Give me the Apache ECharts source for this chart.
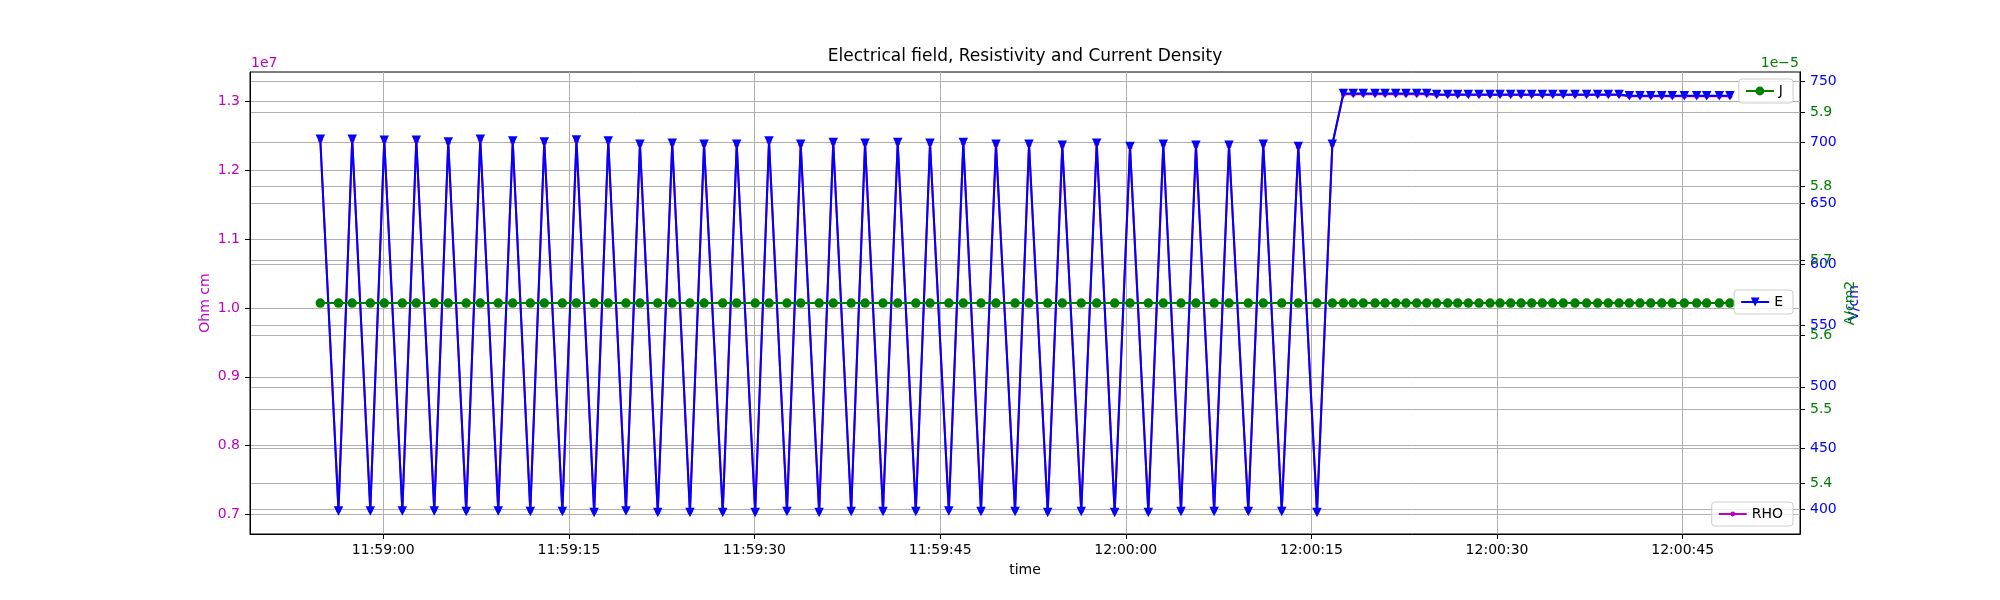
<!DOCTYPE html>
<html>
<head>
<meta charset="utf-8">
<title>Electrical field, Resistivity and Current Density</title>
<script src="https://cdn.jsdelivr.net/npm/echarts@6.0.0/dist/echarts.min.js"></script>
<style>
    html, body { margin: 0; padding: 0; background: #fff; }
    #chart { width: 2000px; height: 600px; }
</style>
</head>
<body>
<div id="chart"></div>
<script>
// sample times (all three series share them)
const times = [
    '11:58:54.91', '11:58:56.38', '11:58:57.49', '11:58:58.95', '11:59:00.08', '11:59:01.54', '11:59:02.67', '11:59:04.12', '11:59:05.25', '11:59:06.70',
    '11:59:07.84', '11:59:09.29', '11:59:10.46', '11:59:11.88', '11:59:13.01', '11:59:14.47', '11:59:15.61', '11:59:17.04', '11:59:18.18', '11:59:19.61',
    '11:59:20.74', '11:59:22.18', '11:59:23.35', '11:59:24.78', '11:59:25.92', '11:59:27.43', '11:59:28.56', '11:59:30.05', '11:59:31.17', '11:59:32.62',
    '11:59:33.73', '11:59:35.22', '11:59:36.36', '11:59:37.81', '11:59:38.93', '11:59:40.38', '11:59:41.57', '11:59:43.03', '11:59:44.18', '11:59:45.70',
    '11:59:46.87', '11:59:48.30', '11:59:49.51', '11:59:51.05', '11:59:52.18', '11:59:53.69', '11:59:54.87', '11:59:56.40', '11:59:57.65', '11:59:59.10',
    '12:00:00.34', '12:00:01.82', '12:00:03.03', '12:00:04.46', '12:00:05.67', '12:00:07.14', '12:00:08.34', '12:00:09.90', '12:00:11.11', '12:00:12.60',
    '12:00:13.94', '12:00:15.45', '12:00:16.69', '12:00:17.58', '12:00:18.38', '12:00:19.19', '12:00:20.14', '12:00:20.95', '12:00:21.81', '12:00:22.64',
    '12:00:23.51', '12:00:24.32', '12:00:25.12', '12:00:26.01', '12:00:26.82', '12:00:27.68', '12:00:28.54', '12:00:29.43', '12:00:30.24', '12:00:31.10',
    '12:00:31.94', '12:00:32.80', '12:00:33.66', '12:00:34.50', '12:00:35.35', '12:00:36.30', '12:00:37.24', '12:00:38.13', '12:00:38.99', '12:00:39.86',
    '12:00:40.69', '12:00:41.55', '12:00:42.42', '12:00:43.31', '12:00:44.16', '12:00:45.13', '12:00:46.13', '12:00:46.94', '12:00:47.96', '12:00:48.82'
];

// E, V/cm
const eValues = [
    702.4, 398.5, 702.4, 398.5, 701.6, 398.5, 701.6, 398.5, 700.2, 398.0,
    702.4, 398.5, 701.0, 398.0, 700.2, 398.0, 701.7, 397.1, 701.0, 398.5,
    698.3, 397.1, 699.1, 397.1, 698.3, 397.1, 698.3, 397.1, 701.0, 398.0,
    698.3, 397.1, 699.7, 398.0, 699.1, 398.0, 699.7, 398.0, 699.1, 398.5,
    699.7, 398.0, 698.3, 398.0, 698.3, 397.1, 697.5, 398.0, 699.1, 397.1,
    696.4, 397.1, 698.3, 398.0, 697.5, 398.0, 697.5, 398.0, 698.3, 398.0,
    696.4, 397.1, 698.3, 739.8, 739.8, 739.8, 739.8, 739.8, 739.8, 739.8,
    739.8, 739.8, 739.0, 739.0, 739.0, 739.0, 739.0, 739.0, 739.0, 739.0,
    739.0, 739.0, 739.0, 739.0, 739.0, 739.0, 739.0, 739.0, 739.0, 739.0,
    738.0, 738.0, 738.0, 738.0, 738.0, 738.0, 738.0, 738.0, 738.0, 738.0
];

// RHO, Ohm cm
const rhoValues = [
    1.2447e7, 0.7062e7, 1.2447e7, 0.7062e7, 1.2433e7, 0.7062e7, 1.2433e7, 0.7062e7, 1.2408e7, 0.7053e7,
    1.2447e7, 0.7062e7, 1.2422e7, 0.7053e7, 1.2408e7, 0.7053e7, 1.2435e7, 0.7037e7, 1.2422e7, 0.7062e7,
    1.2375e7, 0.7037e7, 1.2389e7, 0.7037e7, 1.2375e7, 0.7037e7, 1.2375e7, 0.7037e7, 1.2422e7, 0.7053e7,
    1.2375e7, 0.7037e7, 1.2399e7, 0.7053e7, 1.2389e7, 0.7053e7, 1.2399e7, 0.7053e7, 1.2389e7, 0.7062e7,
    1.2399e7, 0.7053e7, 1.2375e7, 0.7053e7, 1.2375e7, 0.7037e7, 1.2360e7, 0.7053e7, 1.2389e7, 0.7037e7,
    1.2341e7, 0.7037e7, 1.2375e7, 0.7053e7, 1.2360e7, 0.7053e7, 1.2360e7, 0.7053e7, 1.2375e7, 0.7053e7,
    1.2341e7, 0.7037e7, 1.2375e7, 1.3110e7, 1.3110e7, 1.3110e7, 1.3110e7, 1.3110e7, 1.3110e7, 1.3110e7,
    1.3110e7, 1.3110e7, 1.3096e7, 1.3096e7, 1.3096e7, 1.3096e7, 1.3096e7, 1.3096e7, 1.3096e7, 1.3096e7,
    1.3096e7, 1.3096e7, 1.3096e7, 1.3096e7, 1.3096e7, 1.3096e7, 1.3096e7, 1.3096e7, 1.3096e7, 1.3096e7,
    1.3078e7, 1.3078e7, 1.3078e7, 1.3078e7, 1.3078e7, 1.3078e7, 1.3078e7, 1.3078e7, 1.3078e7, 1.3078e7
];

// J, A/cm2
const jValues = [
    5.643e-5, 5.643e-5, 5.643e-5, 5.643e-5, 5.643e-5, 5.643e-5, 5.643e-5, 5.643e-5, 5.643e-5, 5.643e-5,
    5.643e-5, 5.643e-5, 5.643e-5, 5.643e-5, 5.643e-5, 5.643e-5, 5.643e-5, 5.643e-5, 5.643e-5, 5.643e-5,
    5.643e-5, 5.643e-5, 5.643e-5, 5.643e-5, 5.643e-5, 5.643e-5, 5.643e-5, 5.643e-5, 5.643e-5, 5.643e-5,
    5.643e-5, 5.643e-5, 5.643e-5, 5.643e-5, 5.643e-5, 5.643e-5, 5.643e-5, 5.643e-5, 5.643e-5, 5.643e-5,
    5.643e-5, 5.643e-5, 5.643e-5, 5.643e-5, 5.643e-5, 5.643e-5, 5.643e-5, 5.643e-5, 5.643e-5, 5.643e-5,
    5.643e-5, 5.643e-5, 5.643e-5, 5.643e-5, 5.643e-5, 5.643e-5, 5.643e-5, 5.643e-5, 5.643e-5, 5.643e-5,
    5.643e-5, 5.643e-5, 5.643e-5, 5.643e-5, 5.643e-5, 5.643e-5, 5.643e-5, 5.643e-5, 5.643e-5, 5.643e-5,
    5.643e-5, 5.643e-5, 5.643e-5, 5.643e-5, 5.643e-5, 5.643e-5, 5.643e-5, 5.643e-5, 5.643e-5, 5.643e-5,
    5.643e-5, 5.643e-5, 5.643e-5, 5.643e-5, 5.643e-5, 5.643e-5, 5.643e-5, 5.643e-5, 5.643e-5, 5.643e-5,
    5.643e-5, 5.643e-5, 5.643e-5, 5.643e-5, 5.643e-5, 5.643e-5, 5.643e-5, 5.643e-5, 5.643e-5, 5.643e-5
];

// tick labels
const timeTicks = ['11:59:00', '11:59:15', '11:59:30', '11:59:45', '12:00:00', '12:00:15', '12:00:30', '12:00:45'];
const rhoTicks = [0.7e7, 0.8e7, 0.9e7, 1.0e7, 1.1e7, 1.2e7, 1.3e7];
const eTicks = [400, 450, 500, 550, 600, 650, 700, 750];
const jTicks = [5.4e-5, 5.5e-5, 5.6e-5, 5.7e-5, 5.8e-5, 5.9e-5];

// axis limits
const timeRange = ['11:58:49.23', '12:00:54.48'];
const rhoRange = [0.6714e7, 1.3432e7];
const eRange = [379.6, 757.4];
const jRange = [5.3323e-5, 5.9538e-5];

const FONT = 'DejaVu Sans';
const MAGENTA = '#bf00bf';
const BLUE = '#0000ff';
const GREEN = '#008000';
const GRID_GRAY = '#b0b0b0';

function toMs(s) {
    const p = s.split(':');
    return new Date(2024, 0, 1, +p[0], +p[1], 0).getTime() + parseFloat(p[2]) * 1000;
}
function pad2(n) { return (n < 10 ? '0' : '') + n; }
function fmtTime(v) {
    const d = new Date(Math.round(v));
    return pad2(d.getHours()) + ':' + pad2(d.getMinutes()) + ':' + pad2(d.getSeconds());
}

const timeMs = times.map(toMs);
const rhoData = timeMs.map((t, i) => [t, rhoValues[i]]);
const eData = timeMs.map((t, i) => [t, eValues[i]]);
const jData = timeMs.map((t, i) => [t, jValues[i]]);

function yAxis(position, range, ticks, color, name, nameGap, fmt, moveOverlap) {
    return {
        type: 'value',
        position: position,
        min: range[0],
        max: range[1],
        name: name,
        nameLocation: 'middle',
        nameRotate: 90,
        nameGap: nameGap,
        nameMoveOverlap: moveOverlap,
        nameTextStyle: { color: color, fontSize: 14, fontFamily: FONT },
        axisLine: { show: true, lineStyle: { color: '#000', width: 1 } },
        axisTick: { show: true, length: 5, lineStyle: { color: '#000', width: 1 }, customValues: ticks },
        axisLabel: { color: color, fontSize: 14, fontFamily: FONT, margin: 10, customValues: ticks, formatter: fmt },
        splitLine: { show: true, lineStyle: { color: GRID_GRAY, width: 1 } }
    };
}

function legend(name, top, itemHeight) {
    return {
        data: [name],
        right: 207,
        top: top,
        orient: 'vertical',
        padding: [5, 10, 5, 6],
        itemWidth: 28,
        itemHeight: itemHeight,
        backgroundColor: 'rgba(255,255,255,0.8)',
        borderColor: '#cccccc',
        borderWidth: 1,
        borderRadius: 3,
        selectedMode: false,
        textStyle: { color: '#000', fontSize: 14, fontFamily: FONT }
    };
}

let chart = echarts.init(document.querySelector('#chart'));

let option = {
    animation: false,
    backgroundColor: '#fff',
    textStyle: { fontFamily: FONT },
    grid: {
        left: 250, right: 200, top: 72, bottom: 66,
        show: true, borderColor: '#000', borderWidth: 1, backgroundColor: 'transparent'
    },
    graphic: [
        {
            type: 'text', x: 1025, y: 57,
            style: {
                text: 'Electrical field, Resistivity and Current Density',
                font: '17px "DejaVu Sans"', fill: '#000',
                align: 'center', verticalAlign: 'middle', textAlign: 'center', textVerticalAlign: 'middle'
            }
        },
        {
            type: 'text', x: 251, y: 63.5,
            style: {
                text: '1e7', font: '14px "DejaVu Sans"', fill: MAGENTA,
                align: 'left', verticalAlign: 'middle', textAlign: 'left', textVerticalAlign: 'middle'
            }
        },
        {
            type: 'text', x: 1799, y: 63,
            style: {
                text: '1e\u22125', font: '14px "DejaVu Sans"', fill: GREEN,
                align: 'right', verticalAlign: 'middle', textAlign: 'right', textVerticalAlign: 'middle'
            }
        }
    ],
    legend: [
        legend('J', 79, 11),
        legend('E', 290, 11),
        legend('RHO', 502, 6)
    ],
    xAxis: {
        type: 'value',
        min: toMs(timeRange[0]),
        max: toMs(timeRange[1]),
        name: 'time',
        nameLocation: 'middle',
        nameGap: 29,
        nameTextStyle: { color: '#000', fontSize: 14, fontFamily: FONT },
        axisLine: { show: true, onZero: false, lineStyle: { color: '#000', width: 1 } },
        axisTick: { show: true, length: 5, lineStyle: { color: '#000', width: 1 }, customValues: timeTicks.map(toMs) },
        axisLabel: {
            color: '#000', fontSize: 14, fontFamily: FONT, margin: 9,
            customValues: timeTicks.map(toMs),
            formatter: fmtTime
        },
        splitLine: { show: true, lineStyle: { color: GRID_GRAY, width: 1 } }
    },
    yAxis: [
        yAxis('left', rhoRange, rhoTicks, MAGENTA, 'Ohm cm', 38, v => (v / 1e7).toFixed(1), false),
        yAxis('right', eRange, eTicks, BLUE, 'V/cm', 41, v => String(Math.round(v)), true),
        yAxis('right', jRange, jTicks, GREEN, 'A/cm2', 35, v => (v * 1e5).toFixed(1), true)
    ],
    series: [
        {
            name: 'RHO', type: 'line', yAxisIndex: 0, data: rhoData,
            color: MAGENTA, symbol: 'circle', symbolSize: 5, showAllSymbol: true,
            lineStyle: { width: 2, color: MAGENTA }, itemStyle: { color: MAGENTA }
        },
        {
            name: 'E', type: 'line', yAxisIndex: 1, data: eData,
            color: BLUE, symbol: 'triangle', symbolRotate: 180, symbolSize: 9.5, showAllSymbol: true,
            lineStyle: { width: 2, color: BLUE }, itemStyle: { color: BLUE }
        },
        {
            name: 'J', type: 'line', yAxisIndex: 2, data: jData,
            color: GREEN, symbol: 'circle', symbolSize: 9.5, showAllSymbol: true,
            lineStyle: { width: 2, color: GREEN }, itemStyle: { color: GREEN }
        }
    ]
};

chart.setOption(option);
window.addEventListener('resize', () => chart.resize());
</script>
</body>
</html>
